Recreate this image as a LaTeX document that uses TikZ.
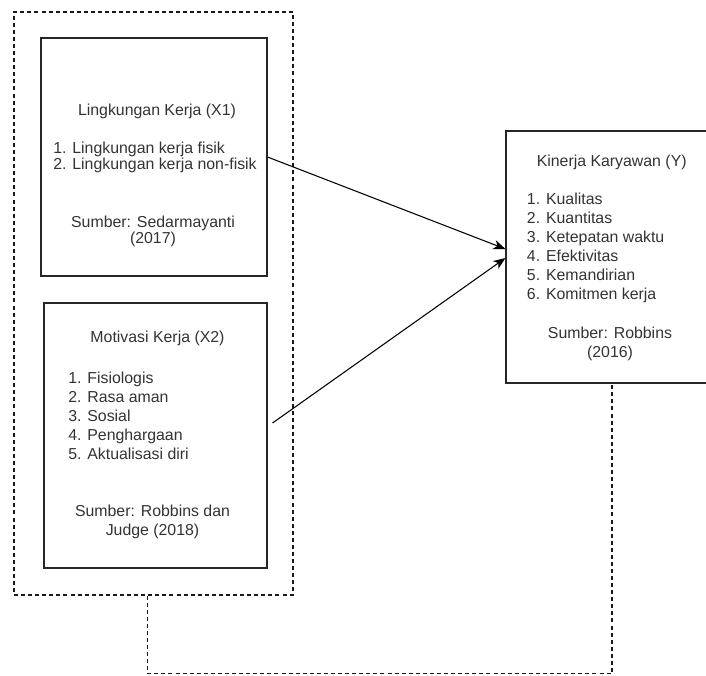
\documentclass[tikz,border=0pt]{standalone}
\usepackage{fontspec}
\setmainfont{Liberation Sans}
\usetikzlibrary{positioning,fit,calc,arrows.meta}

\tikzset{
  box/.style={draw=black!85, line width=0.8pt, inner sep=0pt},
  grp/.style={draw=black!90, line width=0.8pt, dash pattern=on 3pt off 2.3pt},
  txt/.style={text=black!80, inner sep=0pt, font=\fontsize{11.9pt}{14.25pt}\selectfont},
  ttl/.style={txt, anchor=base},
  lst/.style={txt, align=left, anchor=base west},
  src/.style={txt, align=center, anchor=base},
  link/.style={line width=0.8pt, -{Stealth[length=9pt, width=7pt, inset=2.5pt]}}
}

\begin{document}
\begin{tikzpicture}[x=0.75pt, y=-0.75pt]
    \useasboundingbox (0,0) rectangle (706,675);

    % boxes
    \node [box, fit={(41,38) (267,276)}]   (lk) {};
    \node [box, fit={(44,303) (267,568)}]  (mk) {};
    \node [box, fit={(506,131) (710,383)}] (kk) {};
    \node [grp, inner sep=0pt, fit={(14,12) (293,595)}] (xgrp) {};

    % Lingkungan Kerja (multi-line nodes sit on the baseline of their last line)
    \node [ttl] (lk-t) at (157,115) {Lingkungan Kerja (X1)};
    \node [lst, font=\fontsize{11.9pt}{12.5pt}\selectfont] (lk-l) at (53,169.7)
        {1. Lingkungan kerja fisik\\2. Lingkungan kerja non-fisik};
    \node [src, font=\fontsize{11.9pt}{12pt}\selectfont] (lk-s) at (153,243.3)
        {Sumber: Sedarmayanti\\(2017)};

    % Motivasi Kerja
    \node [ttl] (mk-t) at (157.5,342.7) {Motivasi Kerja (X2)};
    \node [lst] (mk-l) at (68,459.3)
        {1. Fisiologis\\2. Rasa aman\\3. Sosial\\4. Penghargaan\\5. Aktualisasi diri};
    \node [src] (mk-s) at (152.5,535.7) {Sumber: Robbins dan\\Judge (2018)};

    % Kinerja Karyawan
    \node [ttl] (kk-t) at (611.7,166.7) {Kinerja Karyawan (Y)};
    \node [lst] (kk-l) at (526.7,299)
        {1. Kualitas\\2. Kuantitas\\3. Ketepatan waktu\\4. Efektivitas\\5. Kemandirian\\6. Komitmen kerja};
    \node [src] (kk-s) at (610,357.3) {Sumber: Robbins\\(2016)};

    % arrows
    \draw [link] (lk.east) -- ($(kk.west)+(0,-8)$);
    \draw [link] ($(mk.east)+(5,-12.5)$) -- ($(kk.west)+(0,1)$);
    \draw [grp] ($(xgrp.south)+(-6,0)$) -- ++(0,78) -| (kk.south -| 612,0);
\end{tikzpicture}
\end{document}
